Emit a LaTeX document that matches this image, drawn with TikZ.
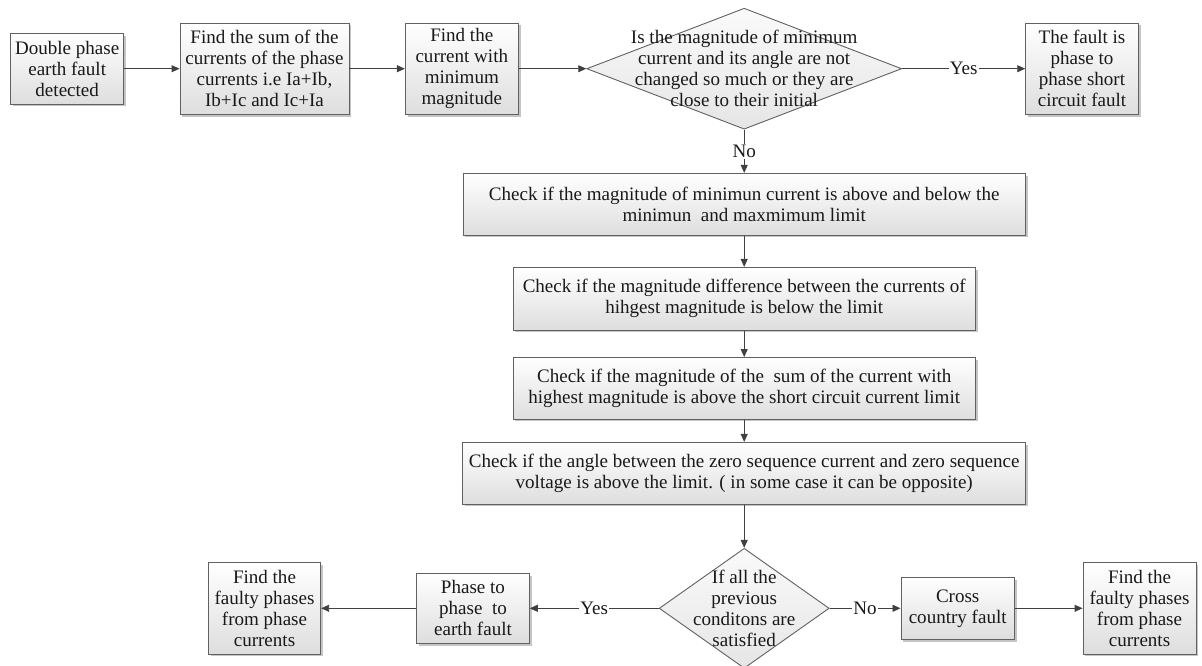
\documentclass[tikz,border=0pt]{standalone}
\usepackage{fontspec}
\setmainfont{Liberation Serif}
\usetikzlibrary{arrows.meta,shapes.geometric,shadows}
\newcommand\flowfont{\fontsize{19.05}{21}\selectfont}
\begin{document}
\begin{tikzpicture}[x=1pt,y=-1pt,
  box/.style={draw=black!62, line width=0.9pt, shading=axis, top color=white,
    bottom color=black!13, align=center, inner sep=0pt, font=\flowfont,
    text=black!90,
    drop shadow={shadow xshift=2.2pt, shadow yshift=-2.2pt, fill=black!45, opacity=0.5}},
  decision/.style={diamond, draw=black!62, line width=0.9pt, shading=axis,
    top color=black!2, bottom color=black!10, inner sep=0pt, aspect=2},
  dtext/.style={align=center, font=\flowfont, text=black!90, inner sep=0pt},
  flow/.style={draw=black!75, line width=0.9pt, -{Triangle[length=8pt,width=7pt]}},
  tag/.style={fill=white, font=\flowfont, text=black!90, inner sep=1pt}
]
\useasboundingbox (0,0) rectangle (1202,666);

% top row
\node[box, minimum width=113pt, minimum height=70.7pt] (b1) at (67.2,68.7)
  {Double phase\\earth fault\\detected};
\node[box, minimum width=169pt, minimum height=91.3pt] (b2) at (264.5,68.7)
  {Find the sum of the\\currents of the phase\\currents i.e Ia+Ib,\\Ib+Ic and Ic+Ia};
\node[box, minimum width=113pt, minimum height=91.3pt] (b3) at (461.8,68.7)
  {Find the\\current with\\minimum\\magnitude};
\node[decision, minimum width=315pt, minimum height=121pt] (d1) at (744.2,68.7) {};
\node[dtext] (d1t) at (744.2,68.7)
  {Is the magnitude of minimum\\current and its angle are not\\changed so much or they are\\close to their initial};
\node[box, minimum width=112.6pt, minimum height=91.3pt] (tr) at (1082,68.7)
  {The fault is\\phase to\\phase short\\circuit fault};

% checks
\node[box, minimum width=562.5pt, minimum height=61.7pt] (b4) at (744.2,204.2)
  {Check if the magnitude of minimun current is above and below the\\minimun\ \ and maxmimum limit};
\node[box, minimum width=462.3pt, minimum height=62.7pt] (b5) at (744.2,298.7)
  {Check if the magnitude difference between the currents of\\hihgest magnitude is below the limit};
\node[box, minimum width=462.3pt, minimum height=61.7pt] (b6) at (744.2,388.3)
  {Check if the magnitude of the\ \ sum of the current with\\highest magnitude is above the short circuit current limit};
\node[box, minimum width=563.4pt, minimum height=61.7pt] (b7) at (744.2,473.2)
  {Check if the angle between the zero sequence current and zero sequence\\voltage is above the limit. ( in some case it can be opposite)};

% bottom row
\node[decision, minimum width=170pt, minimum height=120pt] (d2) at (744.2,608.3) {};
\node[dtext] (d2t) at (744.2,608.3)
  {If all the\\previous\\conditons are\\satisfied};
\node[box, minimum width=112.6pt, minimum height=70pt] (ph) at (473,608.3)
  {Phase to\\phase\ \ to\\earth fault};
\node[box, minimum width=112.4pt, minimum height=91.3pt] (lf) at (264.5,608.3)
  {Find the\\faulty phases\\from phase\\currents};
\node[box, minimum width=113.5pt, minimum height=62pt] (cc) at (957.7,608.3)
  {Cross\\country fault};
\node[box, minimum width=113pt, minimum height=91.3pt] (rt) at (1139.5,608.3)
  {Find the\\faulty phases\\from phase\\currents};

% connectors
\draw[flow] (b1) -- (b2);
\draw[flow] (b2) -- (b3);
\draw[flow] (b3) -- (d1.west);
\draw[flow] (d1.east) -- node[tag] (yes1) {Yes} (tr);
\draw[flow] (d1.south) -- node[tag] (no1) {No} (b4);
\draw[flow] (b4) -- (b5);
\draw[flow] (b5) -- (b6);
\draw[flow] (b6) -- (b7);
\draw[flow] (b7) -- (d2.north);
\draw[flow] (d2.west) -- node[tag] (yes2) {Yes} (ph);
\draw[flow] (ph) -- (lf);
\draw[flow] (d2.east) -- node[tag] (no2) {No} (cc);
\draw[flow] (cc) -- (rt);
\end{tikzpicture}
\end{document}
